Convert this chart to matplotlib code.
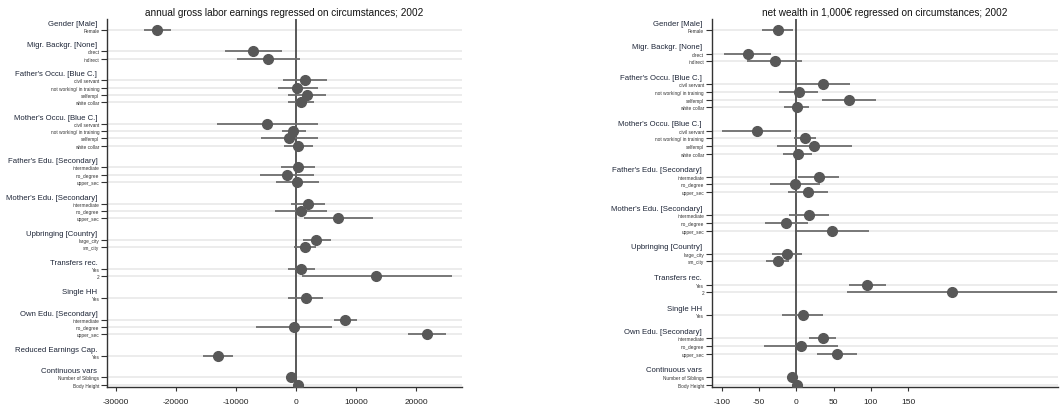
"""Coefficient plots: earnings and net wealth regressed on circumstances (2002)."""
import matplotlib.pyplot as plt
from matplotlib.transforms import blended_transform_factory

plt.rcParams["font.family"] = ["Liberation Sans", "DejaVu Sans"]

OCCU = ["civil servant", "not working/ in training", "selfempl", "white collar"]
EDU = ["intermediate", "no_degree", "upper_sec"]

# (heading, levels) for each panel
groups_earn = [
    ("Gender [Male]", ["Female"]),
    ("Migr. Backgr. [None]", ["direct", "indirect"]),
    ("Father's Occu. [Blue C.]", OCCU),
    ("Mother's Occu. [Blue C.]", OCCU),
    ("Father's Edu. [Secondary]", EDU),
    ("Mother's Edu. [Secondary]", EDU),
    ("Upbringing [Country]", ["large_city", "sm_city"]),
    ("Transfers rec.", ["Yes", "2"]),
    ("Single HH", ["Yes"]),
    ("Own Edu. [Secondary]", EDU),
    ("Reduced Earnings Cap.", ["Yes"]),
    ("Continuous vars", ["Number of Siblings", "Body Height"]),
]
groups_wealth = [g for g in groups_earn if g[0] != "Reduced Earnings Cap."]

# annual gross labor earnings (coef, lower, upper)
earn_coef = [-23200, -7100, -4700, 1450, 200, 1800, 800, -4800, -500, -1200, 400,
             300, -1500, 200, 2000, 800, 7000, 3400, 1500, 800, 13400, 1600,
             8200, -300, 21800, -13000, -900, 300]
earn_lo = [-25400, -11800, -9900, -2200, -3000, -1400, -1400, -13100, -2300, -5800, -2000,
           -2500, -6000, -3400, -900, -3500, 1300, 1100, -300, -1400, 1000, -1400,
           6300, -6600, 18700, -15500, -1200, 0]
earn_hi = [-20900, -2400, 600, 5100, 3600, 5000, 3000, 3600, 1600, 3600, 2800,
           3100, 3000, 3900, 4900, 5200, 12900, 5900, 3300, 3100, 26000, 4500,
           10100, 6000, 25000, -10500, -600, 600]

# net wealth in 1,000 EUR (coef, lower, upper)
wealth_coef = [-24.1, -65.1, -28.9, 36.2, 3.6, 70.6, 0.5, -53.0, 11.7, 24.1, 2.3,
               30.4, -1.3, 15.3, 17.0, -13.4, 47.8, -12.5, -24.5, 95.1, 208.9, 8.5,
               35.3, 6.3, 54.5, -6.2, 1.3]
wealth_lo = [-46.3, -96.8, -65.6, 0.5, -22.8, 34.0, -16.5, -99.9, -2.7, -25.4, -17.4,
             2.7, -34.8, -10.7, -9.4, -41.9, 0.9, -32.9, -40.6, 70.6, 68.3, -18.7,
             17.4, -42.8, 28.1, -8.0, 0.0]
wealth_hi = [-4.0, -34.3, 7.2, 71.9, 28.7, 106.7, 17.4, -7.1, 26.0, 74.2, 20.6,
             57.6, 31.7, 42.1, 44.2, 16.1, 97.4, 8.0, -9.4, 119.7, 350.0, 35.3,
             53.2, 55.4, 80.9, -4.4, 2.6]

earn_ticks = [-30000, -20000, -10000, 0, 10000, 20000]
wealth_ticks = [-100, -50, 0, 50, 100, 150]

DOT = "#585858"
BAR = "#6e6e6e"
GRID = "#e9e9e9"


def layout(groups, gap=2):
    """Row positions for levels and headings (top to bottom)."""
    ypos, labels, heads = [], [], []
    y = 0
    for head, levels in groups:
        heads.append((head, y - 0.9))
        for lev in levels:
            ypos.append(y)
            labels.append(lev)
            y += 1
        y += gap
    return ypos, labels, heads


def coefplot(ax, groups, coef, lo, hi, ticks, xlim, title):
    ypos, labels, heads = layout(groups)
    for y in ypos:
        ax.axhline(y, color=GRID, linewidth=1.2, zorder=0)
    ax.axvline(0, color="#3c3c3c", linewidth=1.2, zorder=1)
    ax.hlines(ypos, lo, hi, color=BAR, linewidth=1.3, zorder=2)
    ax.plot(coef, ypos, "o", color=DOT, markersize=7, zorder=3)

    ax.set_xlim(*xlim)
    ax.set_ylim(ypos[-1] + 0.3, -1.5)
    ax.set_xticks(ticks)
    ax.set_xticklabels([str(t) for t in ticks])
    ax.set_yticks(ypos)
    ax.set_yticklabels(labels, fontsize=3.4, color="#333333")
    ax.tick_params(axis="y", length=4, width=0.8, pad=1.5, color="#333333")
    ax.tick_params(axis="x", length=3, width=0.8, pad=5, labelsize=6,
                   color="#333333", labelcolor="#222222")
    for side in ("top", "right"):
        ax.spines[side].set_visible(False)
    for side in ("left", "bottom"):
        ax.spines[side].set_color("#333333")
        ax.spines[side].set_linewidth(1.0)

    trans = blended_transform_factory(ax.transAxes, ax.transData)
    for head, y in heads:
        ax.annotate(head, xy=(0, y), xycoords=trans, xytext=(-7, 0),
                    textcoords="offset points", ha="right", va="center",
                    fontsize=5.6, color="#1e2638")
    ax.set_title(title, fontsize=7.2, color="#111111", pad=3)


def plot(out="out.png"):
    fig = plt.figure(figsize=(10.6, 4.14), dpi=100)
    ax1 = fig.add_axes([0.101, 0.063, 0.335, 0.889])
    ax2 = fig.add_axes([0.6714, 0.063, 0.3266, 0.889])

    coefplot(ax1, groups_earn, earn_coef, earn_lo, earn_hi, earn_ticks,
             (-31500, 27700),
             "annual gross labor earnings regressed on circumstances; 2002")
    coefplot(ax2, groups_wealth, wealth_coef, wealth_lo, wealth_hi, wealth_ticks,
             (-113.4, 350.8),
             "net wealth in 1,000€ regressed on circumstances; 2002")

    fig.savefig(out, dpi=100)
    print(f"saved {out}")


if __name__ == "__main__":
    plot()
